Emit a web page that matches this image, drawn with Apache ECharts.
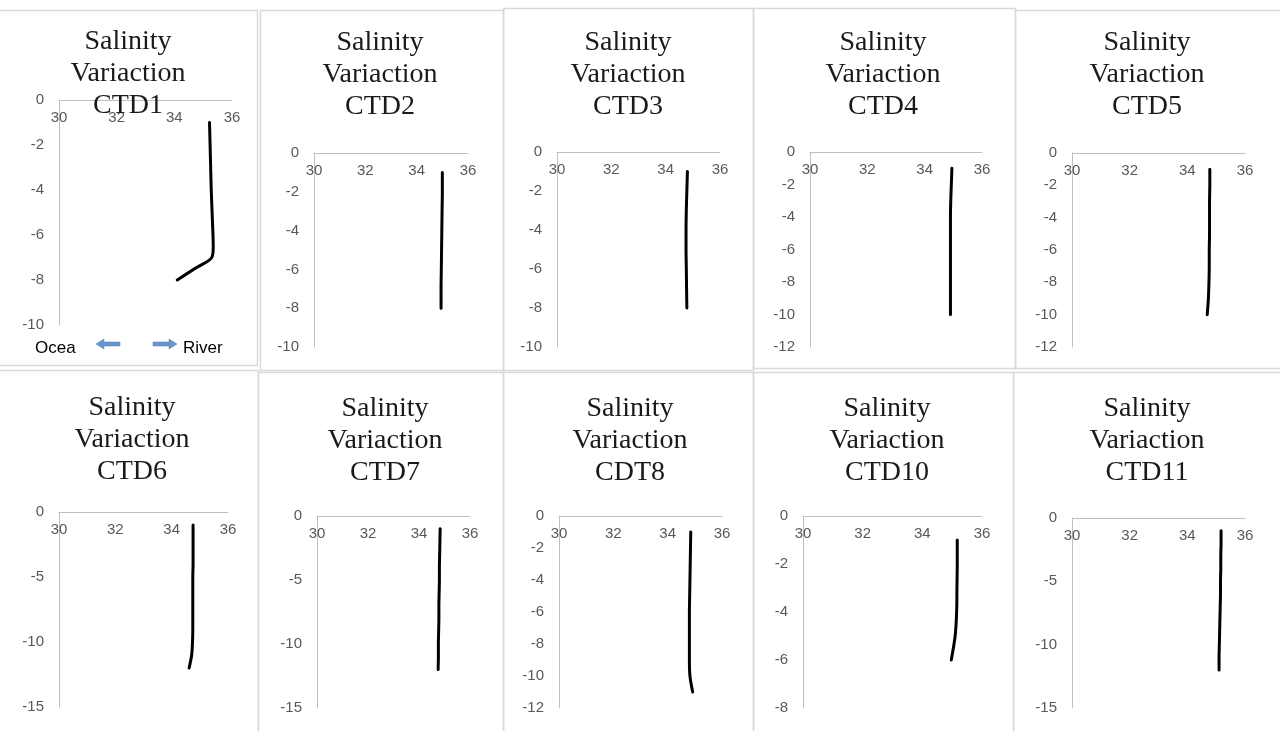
<!DOCTYPE html>
<html>
<head>
<meta charset="utf-8">
<script src="https://cdn.jsdelivr.net/npm/echarts@6/dist/echarts.min.js"></script>
<style>
html,body{margin:0;padding:0;background:#fff;}
#chart{width:1280px;height:731px;}
</style>
</head>
<body>
<div id="chart"></div>
<script>
// ---- Data (salinity in PSU, depth in m) ----
const titles = ["CTD1", "CTD2", "CTD3", "CTD4", "CTD5", "CTD6", "CTD7", "CDT8", "CTD10", "CTD11"];

const ctd1Depth = [-1, -2, -3, -4, -5, -6, -6.5, -7, -7.5, -8];
const ctd1Sal   = [35.22, 35.24, 35.26, 35.28, 35.31, 35.34, 35.35, 35.3, 34.7, 34.1];

const ctd2Depth = [-1, -2, -3, -4, -5, -6, -7, -8];
const ctd2Sal   = [35.0, 35.0, 34.99, 34.98, 34.97, 34.96, 34.95, 34.95];

const ctd3Depth = [-1, -2, -3, -4, -5, -6, -7, -8];
const ctd3Sal   = [34.8, 34.78, 34.76, 34.75, 34.75, 34.76, 34.77, 34.78];

const ctd4Depth = [-1, -2, -3, -4, -5, -6, -7, -8, -9, -10];
const ctd4Sal   = [34.95, 34.93, 34.91, 34.9, 34.9, 34.9, 34.9, 34.9, 34.9, 34.9];

const ctd5Depth = [-1, -2, -3, -4, -5, -6, -7, -8, -9, -10];
const ctd5Sal   = [34.78, 34.78, 34.77, 34.77, 34.77, 34.76, 34.76, 34.75, 34.73, 34.69];

const ctd6Depth = [-1, -2, -3, -4, -5, -6, -7, -8, -9, -10, -11, -12];
const ctd6Sal   = [34.76, 34.76, 34.76, 34.76, 34.75, 34.75, 34.75, 34.75, 34.75, 34.74, 34.71, 34.62];

const ctd7Depth = [-1, -2, -3, -4, -5, -6, -7, -8, -9, -10, -11, -12];
const ctd7Sal   = [34.83, 34.82, 34.81, 34.8, 34.8, 34.79, 34.78, 34.78, 34.77, 34.76, 34.76, 34.75];

const ctd8Depth = [-1, -2, -3, -4, -5, -6, -7, -8, -9, -10, -11];
const ctd8Sal   = [34.85, 34.84, 34.83, 34.82, 34.81, 34.8, 34.8, 34.8, 34.8, 34.82, 34.92];

const ctd10Depth = [-1, -2, -3, -4, -5, -6];
const ctd10Sal   = [35.17, 35.17, 35.16, 35.15, 35.1, 34.97];

const ctd11Depth = [-1, -2, -3, -4, -5, -6, -7, -8, -9, -10, -11, -12];
const ctd11Sal   = [35.17, 35.17, 35.16, 35.16, 35.15, 35.15, 35.14, 35.13, 35.12, 35.11, 35.1, 35.1];

const depthMin      = [-10, -10, -10, -12, -12, -15, -15, -12, -8, -15];
const depthInterval = [2, 2, 2, 2, 2, 5, 5, 2, 2, 5];
const salMin = 30, salMax = 36, salInterval = 2;

const profiles = [
  [ctd1Sal, ctd1Depth], [ctd2Sal, ctd2Depth], [ctd3Sal, ctd3Depth], [ctd4Sal, ctd4Depth], [ctd5Sal, ctd5Depth],
  [ctd6Sal, ctd6Depth], [ctd7Sal, ctd7Depth], [ctd8Sal, ctd8Depth], [ctd10Sal, ctd10Depth], [ctd11Sal, ctd11Depth]
];

// ---- Layout ----
const grids = [
  {left: 59,   top: 100, width: 173, height: 225},
  {left: 314,  top: 153, width: 154, height: 194},
  {left: 557,  top: 152, width: 163, height: 195},
  {left: 810,  top: 152, width: 172, height: 195},
  {left: 1072, top: 153, width: 173, height: 194},
  {left: 59,   top: 512, width: 169, height: 195},
  {left: 317,  top: 516, width: 153, height: 192},
  {left: 559,  top: 516, width: 163, height: 192},
  {left: 803,  top: 516, width: 179, height: 192},
  {left: 1072, top: 518, width: 173, height: 190}
];
const titlePos = [
  [128, 26], [380, 27], [628, 27], [883, 27], [1147, 27],
  [132, 392], [385, 393], [630, 393], [887, 393], [1147, 393]
];
const frames = [
  [-2, 10, 259, 355], [260, 10, 243, 360], [503, 8, 250, 362], [753, 8, 262, 360], [1015, 10, 267, 358],
  [-2, 370, 260, 363], [258, 372, 245, 361], [503, 372, 250, 361], [753, 372, 260, 361], [1013, 372, 269, 361]
];

const axisColor = '#bfbfbf';
const labelColor = '#595959';
const labelFont = 'Liberation Sans';

const option = {
  backgroundColor: '#ffffff',
  animation: false,
  grid: grids.map(g => Object.assign({containLabel: false}, g)),
  xAxis: grids.map((g, i) => ({
    gridIndex: i, type: 'value', position: 'top',
    min: salMin, max: salMax, interval: salInterval,
    axisLine: {show: true, lineStyle: {color: axisColor, width: 1}},
    axisTick: {show: false},
    splitLine: {show: false},
    axisLabel: {inside: true, margin: 10, color: labelColor, fontFamily: labelFont, fontSize: 15}
  })),
  yAxis: grids.map((g, i) => ({
    gridIndex: i, type: 'value',
    min: depthMin[i], max: 0, interval: depthInterval[i],
    axisLine: {show: true, onZero: false, lineStyle: {color: axisColor, width: 1}},
    axisTick: {show: false},
    splitLine: {show: false},
    axisLabel: {margin: 15, color: labelColor, fontFamily: labelFont, fontSize: 15}
  })),
  series: profiles.map((p, i) => ({
    type: 'line', xAxisIndex: i, yAxisIndex: i,
    data: p[0].map((s, k) => [s, p[1][k]]),
    smooth: 0.3, showSymbol: false, symbol: 'none',
    lineStyle: {color: '#000000', width: 3, cap: 'round'},
    z: 3
  })),
  graphic: [].concat(
    frames.map(f => ({
      type: 'rect', silent: true, z: -10,
      shape: {x: f[0] + 0.5, y: f[1] + 0.5, width: f[2], height: f[3]},
      style: {fill: 'none', stroke: '#d9d9d9', lineWidth: 1.5}
    })),
    titles.map((t, i) => ({
      type: 'text', silent: true, z: 10,
      x: titlePos[i][0], y: titlePos[i][1],
      style: {
        text: 'Salinity\nVariaction\n' + t,
        fill: '#1a1a1a',
        font: '28px "Liberation Serif"',
        lineHeight: 32,
        align: 'center', verticalAlign: 'top'
      }
    })),
    [
      {type: 'text', silent: true, x: 35, y: 348,
       style: {text: 'Ocea', fill: '#000', font: '17px "Liberation Sans"', verticalAlign: 'middle'}},
      {type: 'text', silent: true, x: 183, y: 348,
       style: {text: 'River', fill: '#000', font: '17px "Liberation Sans"', verticalAlign: 'middle'}},
      {type: 'polygon', silent: true,
       shape: {points: [[96, 344], [104, 339], [104, 342], [120, 342], [120, 346], [104, 346], [104, 349]]},
       style: {fill: '#6a97c9', stroke: '#4f7fb5', lineWidth: 0.5}},
      {type: 'polygon', silent: true,
       shape: {points: [[177, 344], [169, 339], [169, 342], [153, 342], [153, 346], [169, 346], [169, 349]]},
       style: {fill: '#6a97c9', stroke: '#4f7fb5', lineWidth: 0.5}}
    ]
  )
};

const chart = echarts.init(document.getElementById('chart'), null, {renderer: 'canvas'});
chart.setOption(option);
</script>
</body>
</html>
